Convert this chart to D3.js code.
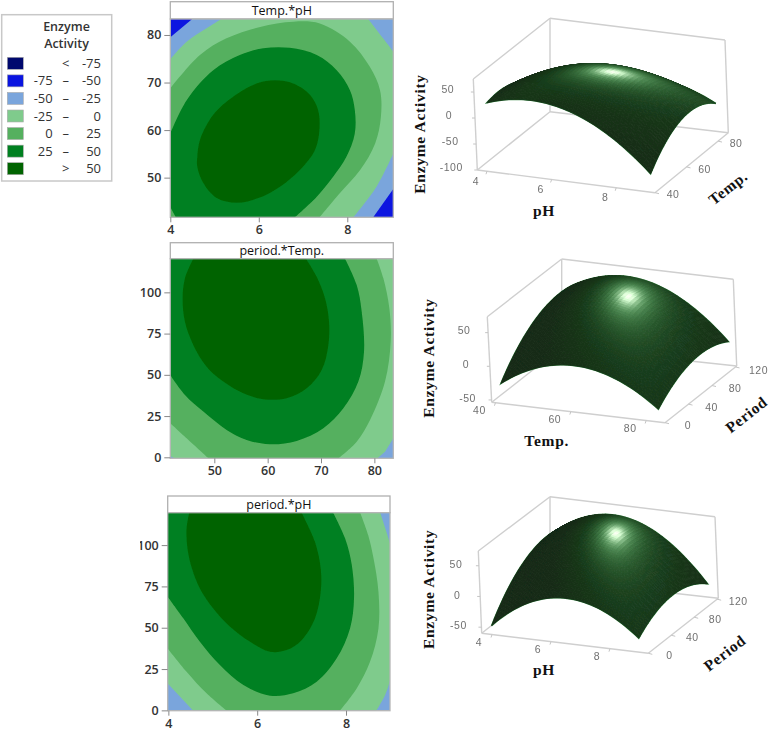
<!DOCTYPE html>
<html>
<head>
<meta charset="utf-8">
<script src="https://cdnjs.cloudflare.com/ajax/libs/d3/7.8.5/d3.min.js"></script>
<style>
html,body{margin:0;padding:0;background:#fff;}
svg{display:block;}
</style>
</head>
<body>
<svg id="chart" width="778" height="731"></svg>
<script>
// ---------- legend ----------
const legendTitle = ["Enzyme", "Activity"];
const legendLow = ["", "-75", "-50", "-25", "0", "25", ""];
const legendSep = ["<", "–", "–", "–", "–", "–", ">"];
const legendHigh = ["-75", "-50", "-25", "0", "25", "50", "50"];
const legendColors = ["#00086e", "#0a14e0", "#7aa5dc", "#7fcb8c", "#55b05f", "#008020", "#006400"];

// ---------- contour boundaries ----------
// Temp.*pH : [pH, Temp]
const tpBlueCornerTL = [[4,79.5],[4.5,83.4],[3.7,86]];
const tpBlueCornerBR = [[8.59,41.7],[9.04,47.6],[9.3,40]];
const tpMinus25 = [[4,74.9],[4.37,78.6],[4.82,81.4],[5.16,83.4],[5.4,86],[8.2,86],[8.47,83.4],[8.81,79.3],[9.04,76.5],[9.15,66],[9.04,55.1],[8.66,48.1],[8.14,41.7],[8,37],[3.6,37],[3.6,65]];
const tpZero = [[4,68.8],[4.67,75.8],[5.27,79.3],[6.03,81.7],[6.78,82.8],[7.38,82.4],[8.06,78.6],[8.51,73.3],[8.74,68.4],[8.76,62.8],[8.63,57.2],[8.29,51.6],[7.83,46.7],[7.38,41.7],[7.2,37],[3.6,37],[3.6,60]];
const tp25 = [[4,59.3],[4.37,66.3],[4.97,72.6],[5.57,75.8],[6.1,77.2],[6.7,77.3],[7.31,75.8],[7.76,72.6],[8.06,68.4],[8.17,64.2],[8.17,59.3],[7.98,54.4],[7.68,50.2],[7.31,46],[6.82,41.7],[6.7,38],[4.4,38],[4.12,41.7],[4,43.8],[3.7,50]];
const tp50 = [[4.61,54.4],[4.67,57.9],[4.97,63.2],[5.42,67],[5.95,69.8],[6.37,70.5],[6.78,69.8],[7.16,67.4],[7.34,64.2],[7.37,60],[7.27,55.8],[6.93,51.6],[6.48,48.1],[5.99,45.7],[5.5,44.7],[5.05,45.7],[4.75,48.8],[4.61,52.3]];

// period.*Temp. : [Temp, period]
const ptBlueCornerBR = [[80.56,-0.6],[82,3.4],[83.56,11.5],[86,-5]];
const ptBlueCornerBL = [[41.75,0.8],[42.5,-0.6],[40,-3]];
const ptZero = [[41.75,20.6],[44.81,11.5],[48.88,-0.6],[50,-8],[72,-8],[73.25,-0.6],[76.69,9.5],[79.19,22.6],[82,45.9],[83.06,70.1],[82.81,90.3],[81.69,108.5],[80.44,120.4],[79.5,135],[38,135],[38,30]];
const pt25 = [[41.75,49.9],[44.5,37.8],[47.94,27.7],[52.31,16.6],[56.06,10.5],[60.44,7.9],[65.44,9.9],[70.44,17.6],[74.19,29.7],[77,45.9],[78.06,64],[77.63,88.3],[76.69,104.4],[74.5,120.4],[73,135],[38,135],[38,60]];
const pt50 = [[46.06,120.4],[44.5,108.5],[44.06,96.4],[44.5,82.2],[46.06,68.1],[48.56,54.9],[51.69,45.9],[55.44,38.8],[59.19,35.2],[63.56,35.8],[67.31,41.8],[70.13,52.9],[71.38,68.1],[71.5,82.2],[70.75,96.4],[69.19,109.5],[67.19,120.4],[66,135],[47,135]];

// period.*pH : [pH, period]
const ppMinus25 = [[3.985,16.3],[4.56,-0.2],[4.7,-10],[8.5,-10],[8.68,-0.2],[8.88,9.3],[8.99,18.3],[9.07,35.5],[9.09,70],[9.07,92],[8.99,101],[8.77,119.6],[8.7,135],[3.5,135],[3.5,25]];
const ppZero = [[3.985,37.5],[4.41,23.4],[4.86,10.3],[5.31,-0.2],[5.5,-10],[7.6,-10],[7.86,-0.2],[8.24,13.3],[8.54,29.4],[8.73,49.6],[8.73,71.8],[8.62,91.9],[8.5,106],[8.32,119.6],[8.2,135],[3.5,135],[3.5,45]];
const pp25 = [[3.985,68.8],[4.34,55.6],[4.71,41.5],[5.16,27.4],[5.69,15.3],[6.29,8.9],[6.81,10.3],[7.34,17.3],[7.79,31.5],[8.09,49.6],[8.18,67.7],[8.13,87.9],[7.98,104],[7.71,119.6],[7.6,135],[3.5,135],[3.5,60]];
const pp50 = [[4.47,119.6],[4.41,110.1],[4.43,98],[4.53,85.9],[4.71,73.8],[5.01,61.7],[5.39,50.6],[5.84,41.5],[6.29,35.5],[6.66,36.5],[7.0,42.5],[7.3,55.6],[7.43,71.8],[7.43,85.9],[7.3,102],[7.0,119.6],[6.8,135],[4.5,135]];

// ---------- surface heights ----------
const phGrid = [4, 5.25, 6.5, 7.75, 9];
const tempGrid = [41.7, 52, 62.5, 73, 83.4];
const periodGrid = [0, 30, 60, 90, 120];
const surfTempPH = [ // rows: Temp, columns: pH
  [24, 46, 30, -8, -68],
  [33, 57, 55, 27, -38],
  [18, 55, 59, 38, -12],
  [-18, 27, 41, 25, -20],
  [-55, -24, 0, -12, -38]];
const surfPeriodTemp = [ // rows: period, columns: Temp
  [-24, 8, 14, 1, -33],
  [8, 36, 48, 30, -18],
  [31, 57, 63, 45, -4],
  [40, 60, 66, 44, -5],
  [38, 58, 60, 31, -18]];
const surfPeriodPH = [ // rows: period, columns: pH
  [-45, -1, 13, 3, -36],
  [-8, 30, 48, 27, -20],
  [18, 53, 62, 46, -14],
  [30, 60, 66, 42, -14],
  [26, 52, 58, 22, -38]];

// ---------- tick labels ----------
const phTicks = [4, 6, 8];
const tempTicks2D = [50, 60, 70, 80];
const tempTicksY = [50, 60, 70, 80];
const periodTicks2D = [0, 25, 50, 75, 100];
const tempTicks3D = [40, 60, 80];
const periodTicks3D = [0, 40, 80, 120];
const zTicks1 = [-100, -50, 0, 50];
const zTicks2 = [-50, 0, 50];

const C = {deepBlue:legendColors[1], lightBlue:legendColors[2], m25:legendColors[3], z0:legendColors[4], p25:legendColors[5], p50:legendColors[6]};

const svg = d3.select("#chart");
const defs = svg.append("defs");
defs.append("filter").attr("id","soft").attr("x","-5%").attr("y","-5%").attr("width","110%").attr("height","110%")
  .append("feGaussianBlur").attr("stdDeviation",0.45);
defs.append("filter").attr("id","soft3").attr("x","-5%").attr("y","-5%").attr("width","110%").attr("height","110%")
  .append("feGaussianBlur").attr("stdDeviation",0.7);
defs.append("filter").attr("id","softT").append("feGaussianBlur").attr("stdDeviation",0.35);

const uiFont = "'Open Sans','Noto Sans',sans-serif";
const serif = "'Liberation Serif','Times New Roman',serif";
const sans = "'Liberation Sans',Arial,sans-serif";

// ---------- legend drawing ----------
const lg = svg.append("g");
lg.append("rect").attr("x",1.7).attr("y",14.7).attr("width",110).attr("height",166.3)
  .attr("fill","#fff").attr("stroke","#c8c8c8").attr("stroke-width",1.5);
lg.selectAll("text.t").data(legendTitle).join("text").attr("class","t")
  .attr("x",66.5).attr("y",(d,i)=>26.5+i*17.5).attr("dy","0.35em")
  .attr("text-anchor","middle").attr("font-family",uiFont).attr("font-size",12.5).attr("font-weight",600).attr("fill","#333").text(d=>d);
const rowY = d3.scaleLinear().domain([0,6]).range([63.3,168.7]);
const rows = lg.selectAll("g.r").data(legendColors).join("g").attr("class","r").attr("transform",(d,i)=>`translate(0,${rowY(i)})`);
rows.append("rect").attr("x",7.3).attr("y",-6).attr("width",16).attr("height",12).attr("fill",d=>d).attr("stroke","#aaa").attr("stroke-width",0.6);
const lgText = (sel,anchor,x,vals)=>sel.append("text").attr("x",x).attr("dy","0.35em").attr("text-anchor",anchor)
  .attr("font-family",uiFont).attr("font-size",13).attr("fill","#333").attr("font-weight",500).text((d,i)=>vals[i]);
lgText(rows,"end",52.7,legendLow);
lgText(rows,"middle",65.7,legendSep);
lgText(rows,"end",101,legendHigh);

// ---------- contour panels ----------
const straight = d3.line().curve(d3.curveLinearClosed);
const closedCurve = d3.line().curve(d3.curveCatmullRomClosed.alpha(0.5));
const openCurve = d3.line().curve(d3.curveCatmullRom.alpha(0.5));

// Boundaries inside the plot are smoothed; points beyond the plot only close the shape.
function boundaryPath(pts, xDom, yDom, x, y){
  const xLo=Math.min(...xDom)-0.02*Math.abs(xDom[1]-xDom[0]), xHi=Math.max(...xDom)+0.02*Math.abs(xDom[1]-xDom[0]);
  const yLo=Math.min(...yDom)-0.02*Math.abs(yDom[1]-yDom[0]), yHi=Math.max(...yDom)+0.02*Math.abs(yDom[1]-yDom[0]);
  const inside=p=>p[0]>=xLo&&p[0]<=xHi&&p[1]>=yLo&&p[1]<=yHi;
  const first=pts.findIndex(p=>!inside(p));
  const px=p=>[x(p[0]),y(p[1])];
  if(first<0) return closedCurve(pts.map(px));
  const rot=[...pts.slice(first),...pts.slice(0,first)];
  let d="", run=[];
  const flush=()=>{
    if(run.length){
      const s=openCurve(run.map(px));
      d+=(d?"L":"M")+s.slice(1);
      run=[];
    }
  };
  rot.forEach(p=>{
    if(inside(p)) run.push(p);
    else { flush(); const q=px(p); d+=(d?"L":"M")+q[0]+","+q[1]; }
  });
  flush();
  return d+"Z";
}

function contourPanel(o, idx){
  const g = svg.append("g");
  const x = d3.scaleLinear().domain(o.xDomain).range(o.xRange);
  const y = d3.scaleLinear().domain(o.yDomain).range(o.yRange);
  const top = o.yRange[1], bot = o.yRange[0], L = o.xRange[0], R = o.xRange[1];
  const clipId = "clip"+idx;
  defs.append("clipPath").attr("id",clipId).append("rect").attr("x",L).attr("y",top).attr("width",R-L).attr("height",bot-top);
  g.append("rect").attr("x",L).attr("y",o.titleTop).attr("width",R-L).attr("height",top-o.titleTop)
    .attr("fill","#fff").attr("stroke","#b0b0b0").attr("stroke-width",1.3);
  g.append("text").attr("x",(L+R)/2).attr("y",(o.titleTop+top)/2).attr("dy","0.35em").attr("text-anchor","middle")
    .attr("font-family",uiFont).attr("font-size",12.5).attr("font-weight",500).attr("fill","#111").text(o.title);
  const blurWrap = g.append("g").attr("filter","url(#soft)");
  const plot = blurWrap.append("g").attr("clip-path",`url(#${clipId})`);
  plot.append("rect").attr("x",L).attr("y",top).attr("width",R-L).attr("height",bot-top).attr("fill",o.base);
  plot.selectAll("path").data(o.layers).join("path")
    .attr("fill",d=>d.fill)
    .attr("d",d=>d.line?d.line(d.pts.map(p=>[x(p[0]),y(p[1])])):boundaryPath(d.pts,o.xDomain,o.yDomain,x,y));
  g.append("rect").attr("x",L).attr("y",top).attr("width",R-L).attr("height",bot-top)
    .attr("fill","none").attr("stroke","#b5b5b5").attr("stroke-width",1.3);
  const xa = g.append("g").attr("transform",`translate(0,${bot})`).call(d3.axisBottom(x).tickValues(o.xTicks).tickSize(5).tickPadding(3).tickFormat(d3.format("d")));
  const ya = g.append("g").attr("transform",`translate(${L},0)`).call(d3.axisLeft(y).tickValues(o.yTicks).tickSize(6).tickPadding(3).tickFormat(d3.format("d")));
  [xa,ya].forEach(a=>{
    a.select(".domain").remove();
    a.selectAll("line").attr("stroke","#888");
    a.selectAll("text").attr("font-family",uiFont).attr("font-size",12.5).attr("font-weight",600).attr("fill","#333");
  });
  if(o.clipLabels){
    defs.append("clipPath").attr("id","lab"+idx).append("rect").attr("x",140-L).attr("y",top).attr("width",40).attr("height",bot-top+5);
    ya.attr("clip-path",`url(#lab${idx})`);
  }
}

contourPanel({title:"Temp.*pH", titleTop:1.7, xDomain:[4,9.04], xRange:[170.3,393.3], yDomain:[41.66,83.36], yRange:[217.3,19],
  xTicks:phTicks, yTicks:tempTicksY, base:C.lightBlue,
  layers:[{fill:C.deepBlue,pts:tpBlueCornerTL,line:straight},{fill:C.deepBlue,pts:tpBlueCornerBR,line:straight},
    {fill:C.m25,pts:tpMinus25},{fill:C.z0,pts:tpZero},{fill:C.p25,pts:tp25},{fill:C.p50,pts:tp50}]},0);
contourPanel({title:"period.*Temp.", titleTop:242.7, xDomain:[41.75,83.55], xRange:[170.3,393.3], yDomain:[-0.6,120.4], yRange:[458.3,258.7],
  xTicks:tempTicks2D, yTicks:periodTicks2D, base:C.m25,
  layers:[{fill:C.lightBlue,pts:ptBlueCornerBR,line:straight},{fill:C.lightBlue,pts:ptBlueCornerBL,line:straight},
    {fill:C.z0,pts:ptZero},{fill:C.p25,pts:pt25},{fill:C.p50,pts:pt50}]},1);
contourPanel({title:"period.*pH", titleTop:496, xDomain:[3.985,8.99], xRange:[167.7,390], yDomain:[-0.2,119.6], yRange:[710.7,512.7],
  xTicks:phTicks, yTicks:periodTicks2D, base:C.lightBlue, clipLabels:true,
  layers:[{fill:C.m25,pts:ppMinus25},{fill:C.z0,pts:ppZero},{fill:C.p25,pts:pp25},{fill:C.p50,pts:pp50}]},2);

// ---------- 3D panels ----------
// Smooth quadratic least-squares weights through the heights read on one grid axis.
function quadWeights(xs){
  const c=(xs[0]+xs[xs.length-1])/2, s=(xs[xs.length-1]-xs[0])/2;
  const X=xs.map(t=>{const q=(t-c)/s;return [1,q,q*q];});
  const A=[0,1,2].map(i=>[0,1,2].map(j=>d3.sum(X,r=>r[i]*r[j])));
  const det=m=>m[0][0]*(m[1][1]*m[2][2]-m[1][2]*m[2][1])-m[0][1]*(m[1][0]*m[2][2]-m[1][2]*m[2][0])+m[0][2]*(m[1][0]*m[2][1]-m[1][1]*m[2][0]);
  const D=det(A);
  const inv=[0,1,2].map(i=>[0,1,2].map(j=>{
    const a=[(j+1)%3,(j+2)%3], b=[(i+1)%3,(i+2)%3];
    return (A[a[0]][b[0]]*A[a[1]][b[1]]-A[a[0]][b[1]]*A[a[1]][b[0]])/D;
  }));
  return t=>{
    const q=(t-c)/s, phi=[1,q,q*q];
    const co=[0,1,2].map(i=>d3.sum([0,1,2],j=>inv[i][j]*phi[j]));
    return X.map(r=>co[0]*r[0]+co[1]*r[1]+co[2]*r[2]);
  };
}

function surfacePanel(o){
  const g = svg.append("g");
  const u = d3.scaleLinear().domain(o.uDomain).range([0,1]);
  const v = d3.scaleLinear().domain(o.vDomain).range([0,1]);
  const w = d3.scaleLinear().domain(o.zDomain).range([0,1]);
  const mix = (p,q,t)=>[p[0]+(q[0]-p[0])*t,p[1]+(q[1]-p[1])*t];
  const {A,B,C:Cc,D,At,Bt,Ct,Dt} = o.box;
  const proj = (uu,vv,ww)=>{
    const f = mix(mix(A,B,uu),mix(D,Cc,uu),vv);
    const t = mix(mix(At,Bt,uu),mix(Dt,Ct,uu),vv);
    return mix(f,t,ww);
  };
  // box
  const boxLines = [[A,B],[B,Cc],[Cc,D],[D,A],[A,At],[At,Dt],[Dt,D],[Dt,Ct],[Ct,Cc]];
  g.append("g").attr("filter","url(#softT)").selectAll("line").data(boxLines).join("line")
    .attr("x1",d=>d[0][0]).attr("y1",d=>d[0][1]).attr("x2",d=>d[1][0]).attr("y2",d=>d[1][1])
    .attr("stroke","#cfcfcf").attr("stroke-width",1.4);

  // tick marks and labels
  const tickG = g.append("g").attr("filter","url(#softT)");
  const tickLab = (x,y,t)=>tickG.append("text").attr("x",x).attr("y",y).attr("dy","0.35em").attr("text-anchor","middle")
    .attr("font-family",sans).attr("font-size",10.5).attr("fill","#707070").attr("letter-spacing",0.5).text(t);
  const tickMark = (p,dx,dy)=>tickG.append("line").attr("x1",p[0]).attr("y1",p[1]).attr("x2",p[0]+dx).attr("y2",p[1]+dy).attr("stroke","#c4c4c4").attr("stroke-width",1);
  o.uTicks.forEach(t=>{const p=proj(u(t),0,0); tickMark(p,-1,3); tickLab(p[0]+o.uOff[0],p[1]+o.uOff[1],t);});
  o.vTicks.forEach(t=>{const p=proj(1,v(t),0); tickMark(p,4,1); tickLab(p[0]+o.vOff[0],p[1]+o.vOff[1],t);});
  o.zTicks.forEach(t=>{const p=proj(0,0,w(t)); tickMark(p,-3,0); tickLab(p[0]+o.zOff[0],p[1]+o.zOff[1],t);});

  // mesh from the surface table
  const N = 44;
  const aDom = d3.extent(o.aGrid), bDom = d3.extent(o.bGrid);
  const aS = d3.scaleLinear().domain([0,N]).range(aDom);
  const bS = d3.scaleLinear().domain([0,N]).range(bDom);
  const wa=quadWeights(o.aGrid), wb=quadWeights(o.bGrid);
  const Z = d3.range(N+1).map(j=>{
    const bw=wb(bS(j));
    return d3.range(N+1).map(i=>{
      const aw=wa(aS(i));
      return d3.sum(o.values,(row,r)=>bw[r]*d3.sum(row,(val,c)=>aw[c]*val));
    });
  });
  const P = (i,j)=>proj(u(aS(i)),v(bS(j)),w(Z[j][i]));
  const normal = (i,j)=>{
    const i0=Math.max(0,i-1), i1=Math.min(N,i+1), j0=Math.max(0,j-1), j1=Math.min(N,j+1);
    const du=(u(aS(i1))-u(aS(i0)))*1.0, dv=(v(bS(j1))-v(bS(j0)))*0.8;
    const dza=(w(Z[j][i1])-w(Z[j][i0]))*0.7/du, dzb=(w(Z[j1][i])-w(Z[j0][i]))*0.7/dv;
    const l=Math.hypot(dza,dzb,1);
    return [-dza/l,-dzb/l,1/l];
  };
  // cells are painted from the back row to the front
  const cells = [];
  for(let j=N-1;j>=0;j--) for(let i=0;i<N;i++) cells.push({i,j});
  let best=null,bestD=1e9,last=null;
  cells.forEach(c=>{
    const p=P(c.i,c.j), d=Math.hypot(p[0]-o.hot[0],p[1]-o.hot[1]);
    if(d<bestD){bestD=d;best=c;}
    if(d<4) last=c;
  });
  const hc=last||best, n0=normal(hc.i,hc.j);
  const colorOf=c=>{
    const n=normal(c.i,c.j);
    const dot=Math.max(0,n[0]*n0[0]+n[1]*n0[1]+n[2]*n0[2]);
    const wide=Math.pow(dot,o.wideP), mid=Math.pow(dot,o.midP), sp=Math.pow(dot,o.spP);
    const r=20+6*wide+75*mid+150*sp, gg=42+38*wide+92*mid+110*sp, b=22+8*wide+78*mid+135*sp;
    return `rgb(${Math.min(255,r)|0},${Math.min(255,gg)|0},${Math.min(255,b)|0})`;
  };
  const sg = g.append("g").attr("filter","url(#soft3)");
  // rim lies under the cells so that only the outer half of it shows, and hidden edges stay hidden
  const idx = d3.range(N+1);
  const edge = [...idx.map(i=>P(0,N-i)), ...idx.map(i=>P(i,0)), ...idx.map(i=>P(N,i)), ...idx.map(i=>P(N-i,N))];
  sg.append("path").attr("d",d3.line()(edge)).attr("fill","none").attr("stroke","#3f8a4a").attr("stroke-width",1.5);
  sg.selectAll("path.c").data(cells).join("path").attr("class","c")
    .attr("d",c=>"M"+[P(c.i,c.j),P(c.i+1,c.j),P(c.i+1,c.j+1),P(c.i,c.j+1)].join("L")+"Z")
    .attr("fill",colorOf).attr("stroke",colorOf).attr("stroke-width",0.9);

  // axis titles
  const title = (x,y,rot,t)=>g.append("text").attr("transform",`translate(${x},${y}) rotate(${rot})`)
    .attr("text-anchor","middle").attr("dy","0.32em").attr("font-family",serif).attr("font-weight",700)
    .attr("font-size",15.5).attr("letter-spacing",0.7).attr("fill","#111").text(t);
  title(o.zTitle[0],o.zTitle[1],-90,"Enzyme  Activity");
  title(o.uTitle[0],o.uTitle[1],0,o.uName);
  title(o.vTitle[0],o.vTitle[1],-38,o.vName);
}

surfacePanel({
  box:{A:[477.3,170],B:[655,192.7],C:[728.3,132.7],D:[550,111.7],At:[473.3,79],Bt:[651.3,100],Ct:[725,40],Dt:[550,18.3]},
  uDomain:[3.7,9.2], vDomain:[40,86.5], zDomain:[-100,75],
  aGrid:phGrid, bGrid:tempGrid, values:surfTempPH,
  uTicks:phTicks, vTicks:tempTicks3D, zTicks:zTicks1,
  uOff:[-11,10], vOff:[18,2], zOff:[-26,-2.3],
  hot:[611.7,69], wideP:5, midP:18, spP:110,
  zTitle:[420,134], uTitle:[544,210.7], vTitle:[728.3,188], uName:"pH", vName:"Temp."
});
surfacePanel({
  box:{A:[491.7,402.3],B:[665,422.7],C:[736.7,366],D:[561.7,347.3],At:[487.3,316.7],Bt:[661,336.7],Ct:[733.3,279.3],Dt:[561.7,259]},
  uDomain:[39,85], vDomain:[0,122], zDomain:[-53.5,73.7],
  aGrid:tempGrid, bGrid:periodGrid, values:surfPeriodTemp,
  uTicks:tempTicks3D, vTicks:periodTicks3D, zTicks:zTicks2,
  uOff:[-16,8], vOff:[23,3], zOff:[-24,-2],
  hot:[626.7,295], wideP:5, midP:18, spP:110,
  zTitle:[429.3,358], uTitle:[546.7,440.7], vTitle:[746.7,415], uName:"Temp.", vName:"Period"
});
surfacePanel({
  box:{A:[481.7,633.3],B:[648.3,653.3],C:[718.3,598.3],D:[550,579.3],At:[478.3,551],Bt:[644.3,571],Ct:[715,516.7],Dt:[550,496.7]},
  uDomain:[3.65,9.3], vDomain:[0,122], zDomain:[-60,74],
  aGrid:phGrid, bGrid:periodGrid, values:surfPeriodPH,
  uTicks:phTicks, vTicks:periodTicks3D, zTicks:zTicks2,
  uOff:[-13,8], vOff:[21,2], zOff:[-23,-1.5],
  hot:[611.7,530.7], wideP:5, midP:18, spP:110,
  zTitle:[429.3,589.3], uTitle:[544,670], vTitle:[725,653.3], uName:"pH", vName:"Period"
});
</script>
</body>
</html>
